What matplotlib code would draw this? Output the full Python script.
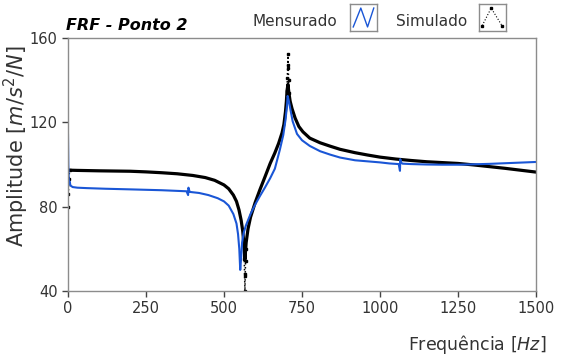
import matplotlib
import matplotlib.pyplot as plt
import numpy as np

matplotlib.use("Agg")

meas_freq = [0, 1, 3, 5, 8, 15, 30, 60, 120, 200, 300, 380, 385, 386, 390, 420,
             450, 480, 500, 515, 530, 540, 545, 549, 552, 555, 558, 563, 570,
             585, 600, 615, 631, 648, 663, 679, 690, 697, 702, 704, 708, 713,
             720, 734, 750, 775, 808, 840, 872, 920, 960, 1000, 1030,
             1060, 1064, 1065, 1067, 1072, 1100, 1150, 1200, 1250, 1300, 1350,
             1400, 1450, 1500]
meas_amp = [114, 100, 91, 92, 90, 89.3, 89.0, 88.8, 88.5, 88.2, 87.8, 87.3, 85.5,
            89, 87.0, 86.5, 85.5, 84.0, 82.5, 80.5, 76.5, 72, 67, 60, 50, 56,
            63, 67.5, 71, 76.5, 81, 85, 89, 93.5, 98, 107, 114, 121, 128,
            132.5, 130, 126, 120.5, 114.5, 111.5, 108.8, 106.3, 104.7,
            103.3, 102, 101.5, 101, 100.5, 100.2, 97, 102.5, 101, 100.4, 100.2,
            100.0, 99.9, 99.9, 100.1, 100.3, 100.6, 100.9, 101.2]

# Simulated FRF (black), main branch
sim_freq = [5, 30, 100, 200, 250, 300, 350, 400, 440, 470, 500, 515, 530,
            540, 548, 555, 560, 564, 567, 571, 577, 585, 600, 615, 631, 648,
            663, 675, 686, 692, 697, 700, 702, 705, 708, 712, 718, 728, 740,
            753, 775, 808, 840, 872, 920, 960, 1000, 1050, 1100, 1150, 1200,
            1250, 1300, 1350, 1400, 1450, 1500]
sim_amp = [97.3, 97.2, 97.0, 96.8, 96.5, 96.1, 95.6, 94.8, 93.8, 92.5, 90.3,
           88.5, 85.5, 82.5, 78.5, 73.5, 68.5, 62, 55, 63, 69.5, 75, 82, 88,
           94, 100.5, 105.5, 110, 115, 119, 125, 130, 135, 138, 134, 130,
           126.5, 122, 118, 115.5, 112.5, 110.3, 108.7, 107.2, 105.6, 104.5,
           103.5, 102.6, 101.9, 101.3, 100.9, 100.5, 99.8, 99.0, 98.2, 97.3,
           96.4]

# sparse tips of the simulated curve (start, anti-resonance, resonance)
sim_start_freq = [0, 1, 3, 5]
sim_start_amp = [80, 86, 93, 97.3]
sim_dip_freq = [564, 565, 566, 567, 568, 569, 570]
sim_dip_amp = [62, 55, 48, 40, 47, 54, 60]
sim_peak_freq = [702, 703, 704, 705, 706, 707, 708]
sim_peak_amp = [135, 141, 147, 152.5, 146, 140, 134]

x_ticks = [0, 250, 500, 750, 1000, 1250, 1500]
y_ticks = [40, 80, 120, 160]

BLUE = "#1a56d6"
GRID_GREY = "#8c8c8c"
TEXT = "#333333"

plt.rcParams["mathtext.fontset"] = "dejavusans"

fig = plt.figure(figsize=(5.64, 3.58), dpi=100)
ax = fig.add_axes([68 / 564, 1 - 291 / 358, 468 / 564, 253 / 358])

ax.plot(sim_freq, sim_amp, color="black", lw=2.3, solid_joinstyle="round")
for fx, fy in ((sim_start_freq, sim_start_amp), (sim_dip_freq, sim_dip_amp),
               (sim_peak_freq, sim_peak_amp)):
    ax.plot(fx, fy, color="black", lw=1.1, ls=":", marker="s", ms=1.8)
ax.plot(meas_freq, meas_amp, color=BLUE, lw=1.5)

ax.set_xlim(0, 1500)
ax.set_ylim(40, 160)
ax.set_xticks(x_ticks)
ax.set_yticks(y_ticks)
for s in ax.spines.values():
    s.set_color(GRID_GREY)
    s.set_linewidth(1.0)
ax.tick_params(labelcolor=TEXT, labelsize=10.5, length=4, width=1,
               direction="out", color="#444444")

ax.set_xlabel(r"Frequência [$Hz$]", fontsize=12.5, color=TEXT)
ax.xaxis.set_label_coords((546 - 68) / 468, -(333 - 291) / 253)
ax.xaxis.label.set_ha("right")
ax.set_ylabel(r"Amplitude [$m/s^2/N$]", fontsize=15, color=TEXT)
ax.yaxis.set_label_coords(-(68 - 31) / 468, (291 - 146) / 253)

fig.text(66 / 564, 1 - 30 / 358, "FRF - Ponto 2", fontsize=11.5,
         fontweight="bold", fontstyle="italic", color="black")

# legend texts and icon boxes
fig.text(337 / 564, 1 - 26 / 358, "Mensurado", fontsize=11, color=TEXT,
         ha="right")
fig.text(467 / 564, 1 - 26 / 358, "Simulado", fontsize=11, color=TEXT,
         ha="right")

icon_m = fig.add_axes([350 / 564, 1 - 31 / 358, 27 / 564, 27 / 358])
icon_m.plot([0.12, 0.4, 0.65, 0.88], [0.15, 0.85, 0.15, 0.85], color=BLUE,
            lw=1.0)
icon_s = fig.add_axes([479 / 564, 1 - 31 / 358, 27 / 564, 27 / 358])
icon_s.plot([0.12, 0.45, 0.85], [0.2, 0.85, 0.2], color="black",
            lw=0.8, ls=":")
icon_s.plot([0.12, 0.45, 0.85], [0.2, 0.85, 0.2], "s", color="black", ms=1.6)
for ic in (icon_m, icon_s):
    ic.set_xlim(0, 1)
    ic.set_ylim(0, 1)
    ic.set_xticks([])
    ic.set_yticks([])
    for s in ic.spines.values():
        s.set_color(GRID_GREY)
        s.set_linewidth(1.0)

fig.savefig("out.png", dpi=100)
